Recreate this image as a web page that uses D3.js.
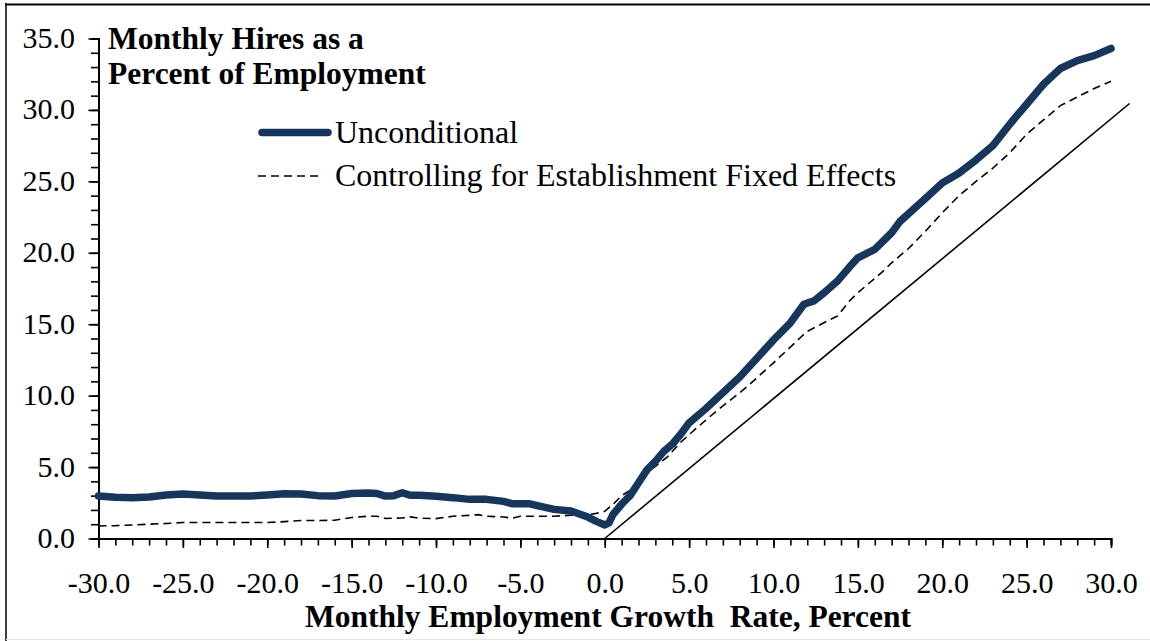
<!doctype html>
<html>
<head>
<meta charset="utf-8">
<script src="https://d3js.org/d3.v7.min.js"></script>
<style>
  body { margin: 0; background: #fff; }
  text { font-family: "Liberation Serif", "Times New Roman", serif; fill: #000; }
  .axis path.domain { stroke: #000; stroke-width: 2; }
  .axis line { stroke: #000; stroke-width: 1.6; }
</style>
</head>
<body>
<svg id="chart" width="1150" height="641"></svg>
<script>
// x = monthly employment growth rate, y = hires as % of employment
var uncondX = [-30,-29,-28,-27,-26,-25,-24,-23,-22,-21,-20,-19,-18,-17,-16,-15,-14,-13.5,-13,-12.5,-12,-11.5,-11,-10,-9,-8,-7,-6,-5.5,-4.5,-4,-3,-2,-1.5,-1,-0.5,0,0.25,0.5,1,1.5,2,2.5,3,3.5,4,4.5,5,6,7,8,9,10,11,11.8,12.4,13,13.8,14.5,15,16,17,17.5,19,20,21,22,23,24,25,26,27,28,29,30];
var uncondY = [2.97,2.88,2.85,2.9,3.05,3.12,3.05,2.97,2.97,2.97,3.05,3.14,3.12,3.0,2.97,3.15,3.18,3.15,2.97,3.0,3.2,3.02,3.02,2.95,2.86,2.74,2.74,2.6,2.44,2.44,2.3,2.04,1.92,1.72,1.5,1.2,0.95,1.1,1.7,2.4,3.0,3.9,4.8,5.4,6.1,6.6,7.3,8.1,9.1,10.2,11.3,12.6,13.9,15.1,16.4,16.63,17.2,18.03,19.0,19.65,20.24,21.4,22.2,23.8,24.89,25.58,26.5,27.5,29.0,30.4,31.8,32.9,33.45,33.8,34.3];

var fixedX = [-30,-29,-28,-27,-26,-25,-24,-22,-20,-19,-18,-17,-16,-15,-14,-13.5,-13,-12,-11.5,-11,-10,-9,-8,-7.5,-7,-6,-5.5,-5,-3,-2,-1,-0.5,0,0.5,1,1.5,2,2.7,3.7,4.5,5.5,6.65,8,8.6,10,11,11.6,12,13.2,13.8,14.5,15,16.5,17,18,19,20,21,22,23,24,25,26,27,28,29,30];
var fixedY = [0.88,0.9,0.95,1.0,1.05,1.12,1.12,1.12,1.12,1.18,1.26,1.26,1.28,1.47,1.56,1.56,1.4,1.44,1.51,1.42,1.39,1.56,1.62,1.67,1.56,1.51,1.42,1.56,1.56,1.63,1.67,1.76,1.9,2.4,3.0,3.37,3.9,4.77,5.7,6.74,7.79,8.95,10.2,10.8,12.3,13.4,14.07,14.5,15.23,15.58,16.63,17.2,18.72,19.3,20.3,21.5,22.8,24.0,25.0,25.93,27.0,28.3,29.3,30.3,30.9,31.5,32.0];

var refX = [0, 31.1];
var refY = [0, 30.45];

var xTicks = [-30,-25,-20,-15,-10,-5,0,5,10,15,20,25,30];
var yTicks = [0,5,10,15,20,25,30,35];

var titleLines = ["Monthly Hires as a", "Percent of Employment"];
var seriesNames = ["Unconditional", "Controlling for Establishment Fixed Effects"];
var xTitle = "Monthly Employment Growth  Rate, Percent";

var svg = d3.select("#chart");
var navy = "#17365d";

var x = d3.scaleLinear().domain([-30, 30]).range([98.5, 1111]);
var y = d3.scaleLinear().domain([0, 35]).range([538.5, 38.5]);

// frame
svg.append("line").attr("x1", 6).attr("x2", 6).attr("y1", 3).attr("y2", 641)
  .attr("stroke", "#000").attr("stroke-width", 1.5);
svg.append("line").attr("x1", 5).attr("x2", 1150).attr("y1", 4.5).attr("y2", 4.5)
  .attr("stroke", "#000").attr("stroke-width", 2);
svg.append("line").attr("x1", 6).attr("x2", 1150).attr("y1", 639.5).attr("y2", 639.5)
  .attr("stroke", "#e6e6e6").attr("stroke-width", 1);

// minor ticks
svg.append("g").attr("class", "axis")
  .attr("transform", "translate(0," + y(0) + ")")
  .call(d3.axisBottom(x).tickValues(d3.range(-30, 31, 1)).tickSize(7).tickFormat(""));
svg.append("g").attr("class", "axis")
  .attr("transform", "translate(" + x(-30) + ",0)")
  .call(d3.axisLeft(y).tickValues(d3.range(0, 36, 1)).tickSize(7.5).tickFormat(""));

// major ticks + labels
var xAxisG = svg.append("g").attr("class", "axis")
  .attr("transform", "translate(0," + y(0) + ")")
  .call(d3.axisBottom(x).tickValues(xTicks).tickSize(9.5).tickSizeOuter(0)
    .tickFormat(function(d){ return d.toFixed(1); }));
xAxisG.selectAll("text").attr("y", 54.5).attr("dy", 0)
  .style("font-size", "30px").style("font-family", "'Liberation Serif', serif");

var yAxisG = svg.append("g").attr("class", "axis")
  .attr("transform", "translate(" + x(-30) + ",0)")
  .call(d3.axisLeft(y).tickValues(yTicks).tickSize(10).tickSizeOuter(0).tickPadding(13.5)
    .tickFormat(function(d){ return d.toFixed(1); }));
yAxisG.selectAll("text").attr("dy", "0.3em")
  .style("font-size", "30px").style("font-family", "'Liberation Serif', serif");

// lines
var lineGen = d3.line().x(function(d){ return x(d[0]); }).y(function(d){ return y(d[1]); });

svg.append("path").datum(d3.zip(refX, refY)).attr("d", lineGen)
  .attr("fill", "none").attr("stroke", "#000").attr("stroke-width", 1.6);

svg.append("path").datum(d3.zip(fixedX, fixedY)).attr("d", lineGen)
  .attr("fill", "none").attr("stroke", "#000").attr("stroke-width", 1.6)
  .attr("stroke-dasharray", "8,5");

svg.append("path").datum(d3.zip(uncondX, uncondY)).attr("d", lineGen)
  .attr("fill", "none").attr("stroke", navy).attr("stroke-width", 7.5)
  .attr("stroke-linejoin", "round").attr("stroke-linecap", "round");

// title
svg.selectAll(".ttl").data(titleLines).enter().append("text")
  .attr("class", "ttl")
  .attr("x", 108).attr("y", function(d, i){ return 49 + i * 35; })
  .style("font-size", "31.5px").style("font-weight", "bold")
  .text(function(d){ return d; });

// legend
svg.append("line").attr("x1", 262).attr("x2", 328).attr("y1", 132.5).attr("y2", 132.5)
  .attr("stroke", navy).attr("stroke-width", 7.5).attr("stroke-linecap", "round");
svg.append("line").attr("x1", 258).attr("x2", 320).attr("y1", 176).attr("y2", 176)
  .attr("stroke", "#000").attr("stroke-width", 1.6).attr("stroke-dasharray", "8,5");
svg.selectAll(".leg").data(seriesNames).enter().append("text")
  .attr("class", "leg")
  .attr("x", 335).attr("y", function(d, i){ return 143 + i * 43; })
  .style("font-size", "32px")
  .text(function(d){ return d; });

// x axis title
svg.append("text").attr("x", 608).attr("y", 627)
  .attr("text-anchor", "middle")
  .style("font-size", "31.5px").style("font-weight", "bold")
  .style("white-space", "pre")
  .text(xTitle);
</script>
</body>
</html>
